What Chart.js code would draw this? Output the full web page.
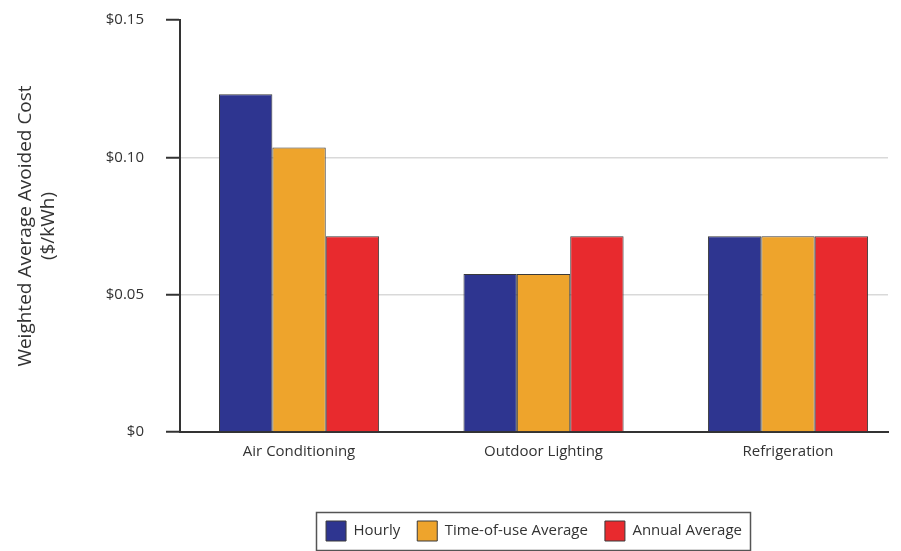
<!DOCTYPE html>
<html>
<head>
<meta charset="utf-8">
<script src="https://cdn.jsdelivr.net/npm/chart.js@4"></script>
<style>
  html, body { margin: 0; padding: 0; background: #ffffff; }
  #wrap { width: 901px; height: 551px; }
</style>
</head>
<body>
<div id="wrap"><canvas id="c" width="901" height="551"></canvas></div>
<script>
const categories = ["Air Conditioning", "Outdoor Lighting", "Refrigeration"];
const seriesNames = ["Hourly", "Time-of-use Average", "Annual Average"];
const hourly = [0.123, 0.0575, 0.0713];
const timeOfUse = [0.1036, 0.0575, 0.0713];
const annual = [0.0713, 0.0713, 0.0713];
const yTicks = [0, 0.05, 0.10, 0.15];
const yTickLabels = ["$0", "$0.05", "$0.10", "$0.15"];

const colors = ["#2e3590", "#eea42c", "#e82a2e"];
const FONT = "'Open Sans', 'DejaVu Sans', sans-serif";

function pts(arr) { return arr.map((v, i) => ({ x: i, y: v })); }

const legendPlace = {
  id: 'legendPlace',
  afterLayout(chart) {
    const lg = chart.legend;
    if (!lg) return;
    lg.left = chart.chartArea.left;
    lg.right = chart.chartArea.right;
  },
  afterDraw(chart) {
    const lg = chart.legend;
    if (!lg || !lg.legendHitBoxes || !lg.legendHitBoxes.length) return;
    const hb = lg.legendHitBoxes;
    let minX = Infinity, maxX = -Infinity, minY = Infinity, maxY = -Infinity;
    hb.forEach(b => {
      minX = Math.min(minX, b.left); maxX = Math.max(maxX, b.left + b.width);
      minY = Math.min(minY, b.top); maxY = Math.max(maxY, b.top + b.height);
    });
    const ctx = chart.ctx;
    ctx.save();
    ctx.strokeStyle = '#555';
    ctx.lineWidth = 1.5;
    ctx.strokeRect(Math.round(minX - 10) + 0.5, Math.round(minY - 9) + 0.5,
                   Math.round(maxX - minX + 18), Math.round(maxY - minY + 18));
    ctx.restore();
  }
};

new Chart(document.getElementById('c'), {
  type: 'bar',
  data: {
    datasets: [
      { label: seriesNames[0], data: pts(hourly), backgroundColor: colors[0], borderColor: '#3a3a3a', borderWidth: 1 },
      { label: seriesNames[1], data: pts(timeOfUse), backgroundColor: colors[1], borderColor: '#3a3a3a', borderWidth: 1 },
      { label: seriesNames[2], data: pts(annual), backgroundColor: colors[2], borderColor: '#3a3a3a', borderWidth: 1 }
    ]
  },
  options: {
    responsive: false,
    animation: false,
    devicePixelRatio: 1,
    layout: { padding: { top: 20, right: 13, bottom: 0, left: 0 } },
    datasets: { bar: { categoryPercentage: 0.655, barPercentage: 1.0 } },
    plugins: {
      legend: {
        position: 'bottom',
        labels: {
          boxWidth: 20, boxHeight: 20, padding: 17,
          color: '#333', font: { family: FONT, size: 15 }
        }
      },
      tooltip: { enabled: false }
    },
    scales: {
      x: {
        type: 'linear',
        offset: false,
        min: -0.487,
        max: 2.409,
        afterBuildTicks(scale) { scale.ticks = categories.map((c, i) => ({ value: i })); },
        ticks: {
          autoSkip: false,
          maxRotation: 0,
          color: '#333',
          font: { family: FONT, size: 15 },
          padding: 11,
          callback: (v) => categories[v] ?? ''
        },
        title: {
          display: true,
          text: ' ',
          font: { family: FONT, size: 15 },
          padding: { top: 0, bottom: 14 }
        },
        grid: { display: false, drawTicks: false, offset: false },
        border: { display: true, color: '#333', width: 2 }
      },
      y: {
        min: 0,
        max: 0.15,
        afterBuildTicks(scale) { scale.ticks = yTicks.map(v => ({ value: v })); },
        afterFit(scale) {
          scale.width = 180;
          scale.paddingTop = 8;
          scale.paddingBottom = 8;
        },
        ticks: {
          color: '#333',
          font: { family: FONT, size: 15 },
          padding: 22,
          callback: (v) => { const i = yTicks.findIndex(t => Math.abs(t - v) < 1e-9); return i >= 0 ? yTickLabels[i] : ''; }
        },
        grid: {
          color: (ctx) => (ctx.tick && (Math.abs(ctx.tick.value - 0.05) < 1e-9 || Math.abs(ctx.tick.value - 0.10) < 1e-9)) ? '#d9d9d9' : 'rgba(0,0,0,0)',
          tickColor: '#333',
          tickLength: 14,
          tickWidth: 2,
          lineWidth: 1.5,
          drawOnChartArea: true
        },
        border: { display: true, color: '#333', width: 2 },
        title: {
          display: true,
          text: ["Weighted Average Avoided Cost", "($/kWh)"],
          color: '#333',
          font: { family: FONT, size: 19 },
          padding: { top: 14, bottom: 0 }
        }
      }
    }
  },
  plugins: [legendPlace]
});
</script>
</body>
</html>
